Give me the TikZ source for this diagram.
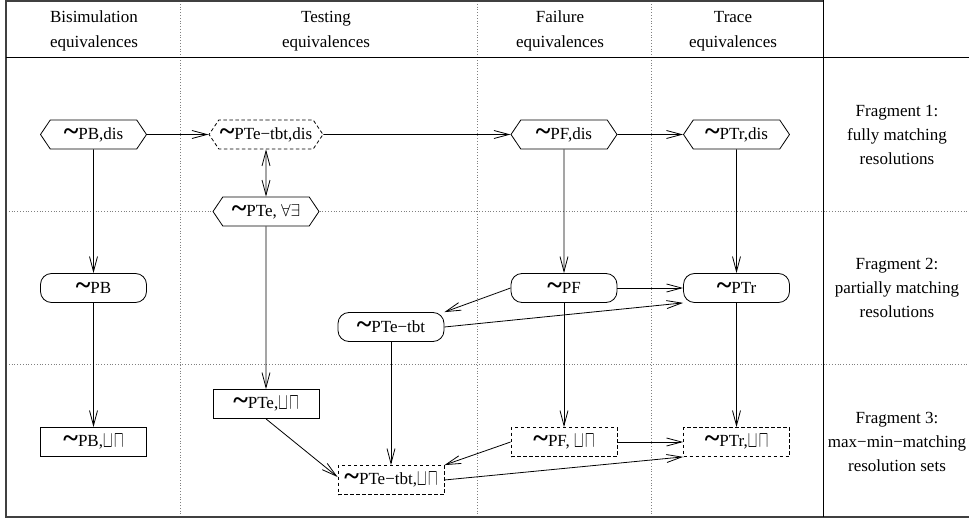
\documentclass[tikz,border=0pt]{standalone}
\usepackage{fontspec}
\setmainfont{Liberation Serif}
\usetikzlibrary{arrows.meta,shapes.symbols}
\newcommand{\Tsim}{\raisebox{-1pt}{\fontsize{28}{28}\selectfont\bfseries\char"7E}}
\newcommand{\sqcc}{\raisebox{-0.5pt}{\scalebox{0.82}[1.35]{$\sqcup\mkern2mu\sqcap$}}}
\begin{document}
\begin{tikzpicture}[x=1pt,y=-1pt,
  >={Straight Barb[length=15pt,width=8pt]},
  base/.style={draw, fill=white, line width=0.8pt, minimum width=106pt, minimum height=29pt, inner sep=1pt, font=\fontsize{17}{20}\selectfont},
  hexa/.style={base, signal, signal to=east and west, signal pointer angle=112},
  hexad/.style={hexa, dash pattern=on 3.5pt off 2.5pt},
  rnd/.style={base, rounded corners=11pt},
  nbox/.style={base},
  nboxd/.style={base, dash pattern=on 3.5pt off 2.5pt},
  edge/.style={line width=0.8pt, ->},
  gridl/.style={gray, line width=0.7pt, dash pattern=on 0.8pt off 2pt},
  frame/.style={line width=1.3pt, black!75},
  hdr/.style={font=\fontsize{17}{25}\selectfont, align=center},
  frag/.style={font=\fontsize{17}{24}\selectfont, align=center}]
\useasboundingbox (0,0) rectangle (969,521);
% grid
\foreach \gx in {180,477,651} \draw[gridl] (\gx,1) -- (\gx,517);
\foreach \gy in {211.5,364.5} \draw[gridl] (6,\gy) -- (969,\gy);
% frame
\draw[frame] (969,517) -- (6,517) -- (6,1) -- (823,1);
\draw[line width=1.2pt] (6,57.5) -- (969,57.5);
\draw[line width=1pt] (823,0) -- (823,517);
% headers
\node[hdr] (h1) at (94,31) {Bisimulation\\equivalences};
\node[hdr] (h2) at (326,31) {Testing\\equivalences};
\node[hdr] (h3) at (560,31) {Failure\\equivalences};
\node[hdr] (h4) at (733,31) {Trace\\equivalences};
\node[frag] (f1) at (897,134.5) {Fragment 1:\\fully matching\\resolutions};
\node[frag] (f2) at (897,288) {Fragment 2:\\partially matching\\resolutions};
\node[frag] (f3) at (897,441.5) {Fragment 3:\\max−min−matching\\resolution sets};
% nodes
\node[hexa] (PBd) at (93.5,134.5) {\Tsim PB,dis};
\node[hexad] (PTtd) at (266,134.5) {\Tsim PTe−tbt,dis};
\node[hexa] (PFd) at (564,134.5) {\Tsim PF,dis};
\node[hexa] (PTrd) at (736.5,134.5) {\Tsim PTr,dis};
\node[hexa] (PTeAE) at (266,211.5) {\Tsim PTe, $\forall\exists$};
\node[rnd] (PB) at (93.5,288) {\Tsim PB};
\node[rnd] (PF) at (564,288) {\Tsim PF};
\node[rnd] (PTr) at (736.5,288) {\Tsim PTr};
\node[rnd] (PTt) at (391,327) {\Tsim PTe−tbt};
\node[nbox] (PBLU) at (93.5,442) {\Tsim PB,\sqcc};
\node[nbox] (PTeLU) at (266,404) {\Tsim PTe,\sqcc};
\node[nboxd] (PFLU) at (564,442) {\Tsim PF, \sqcc};
\node[nboxd] (PTrLU) at (736.5,442) {\Tsim PTr,\sqcc};
\node[nboxd] (PTtLU) at (391,480) {\Tsim PTe−tbt,\sqcc};
% edges
\draw[edge] (PBd) -- (PTtd);
\draw[edge] (PTtd) -- (PFd);
\draw[edge] (PFd) -- (PTrd);
\draw[line width=0.8pt, <->] (PTtd) -- (PTeAE);
\draw[edge] (PBd) -- (PB);
\draw[edge] (PFd) -- (PF);
\draw[edge] (PTrd) -- (PTr);
\draw[edge] (PF) -- (PTr);
\draw[edge] (PF.west) -- (PTt.north east);
\draw[edge] (PTt.east) -- (PTr.south west);
\draw[edge] (PB) -- (PBLU);
\draw[edge] (PTeAE) -- (PTeLU);
\draw[edge] (PTt) -- (PTtLU);
\draw[edge] (PF) -- (PFLU);
\draw[edge] (PTr) -- (PTrLU);
\draw[edge] (PTeLU.south) -- ([yshift=3pt]PTtLU.west);
\draw[edge] (PFLU.west) -- (PTtLU.north east);
\draw[edge] (PFLU) -- (PTrLU);
\draw[edge] (PTtLU.east) -- (PTrLU.south west);
\end{tikzpicture}
\end{document}
